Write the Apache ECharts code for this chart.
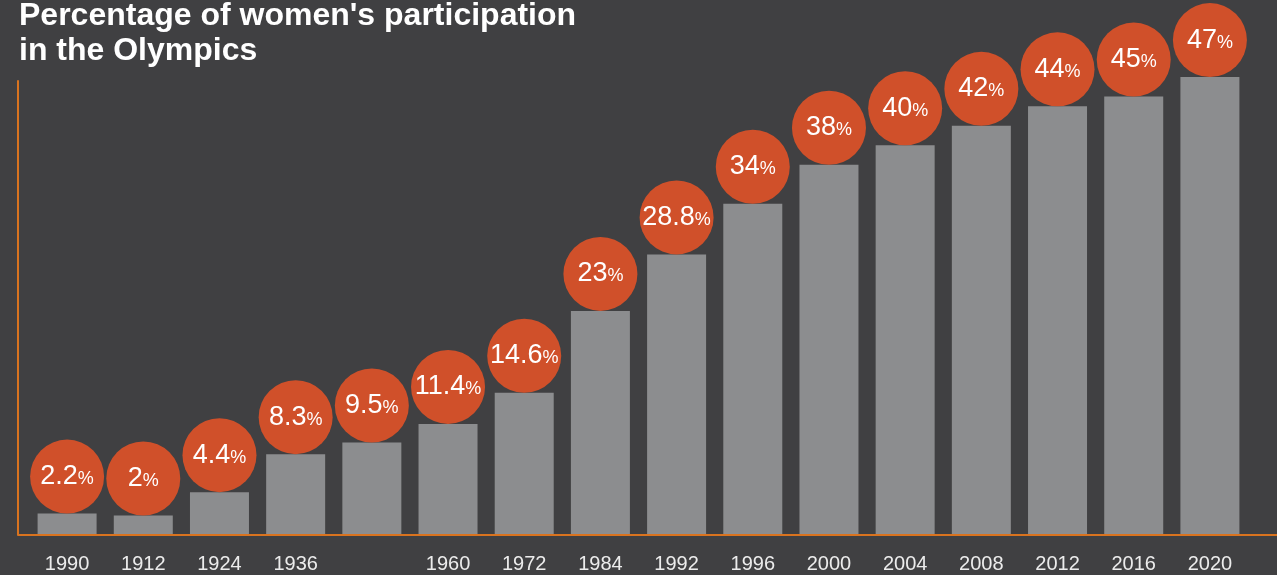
<!DOCTYPE html>
<html>
<head>
<meta charset="utf-8">
<script src="https://cdn.jsdelivr.net/npm/echarts@6/dist/echarts.min.js"></script>
<style>
  html, body { margin: 0; padding: 0; background: #404042; }
  #main { width: 1277px; height: 575px; }
</style>
</head>
<body>
<div id="main"></div>
<script>
// year labels (the 5th bar has no label in the original)
var years = ['1990', '1912', '1924', '1936', '', '1960', '1972', '1984', '1992', '1996', '2000', '2004', '2008', '2012', '2016', '2020'];
// share of women athletes, %
var share = [2.2, 2, 4.4, 8.3, 9.5, 11.4, 14.6, 23, 28.8, 34, 38, 40, 42, 44, 45, 47];

var myChart = echarts.init(document.getElementById('main'));

var option = {
  backgroundColor: '#404042',
  textStyle: { fontFamily: 'Liberation Sans, Arial, sans-serif' },
  title: {
    text: "Percentage of women's participation\nin the Olympics",
    left: 14,
    top: -6,
    textStyle: {
      color: '#ffffff',
      fontSize: 32,
      fontWeight: 'bold',
      lineHeight: 35
    }
  },
  grid: { left: 29, right: 29, top: 81, bottom: 40 },
  xAxis: {
    type: 'category',
    data: years,
    axisLine: { show: false },
    axisTick: { show: false },
    axisLabel: { color: '#ececec', fontSize: 20, margin: 19 }
  },
  yAxis: {
    type: 'value',
    min: 0,
    max: 46.6,
    offset: 11,
    axisLine: { show: true, lineStyle: { color: '#d9731f', width: 2 } },
    axisTick: { show: false },
    axisLabel: { show: false },
    splitLine: { show: false }
  },
  graphic: [{
    type: 'line',
    shape: { x1: 18, y1: 535, x2: 1277, y2: 535 },
    style: { stroke: '#d9731f', lineWidth: 2 },
    z: 10
  }],
  series: [{
    type: 'bar',
    data: share,
    barWidth: 59,
    clip: false,
    itemStyle: { color: '#8c8d8f' },
    z: 2
  }, {
    type: 'scatter',
    data: share,
    clip: false,
    symbol: 'circle',
    symbolSize: 74,
    symbolOffset: [0, -37],
    itemStyle: { color: '#d0502a', opacity: 1 },
    z: 3,
    label: {
      show: true,
      position: 'inside',
      formatter: function (p) { return '{n|' + p.value + '}{p|%}'; },
      rich: {
        n: { color: '#ffffff', fontSize: 27, fontFamily: 'Liberation Sans, Arial, sans-serif' },
        p: { color: '#ffffff', fontSize: 18, fontFamily: 'Liberation Sans, Arial, sans-serif', padding: [5, 0, 0, 0] }
      }
    }
  }]
};

myChart.setOption(option);
</script>
</body>
</html>
